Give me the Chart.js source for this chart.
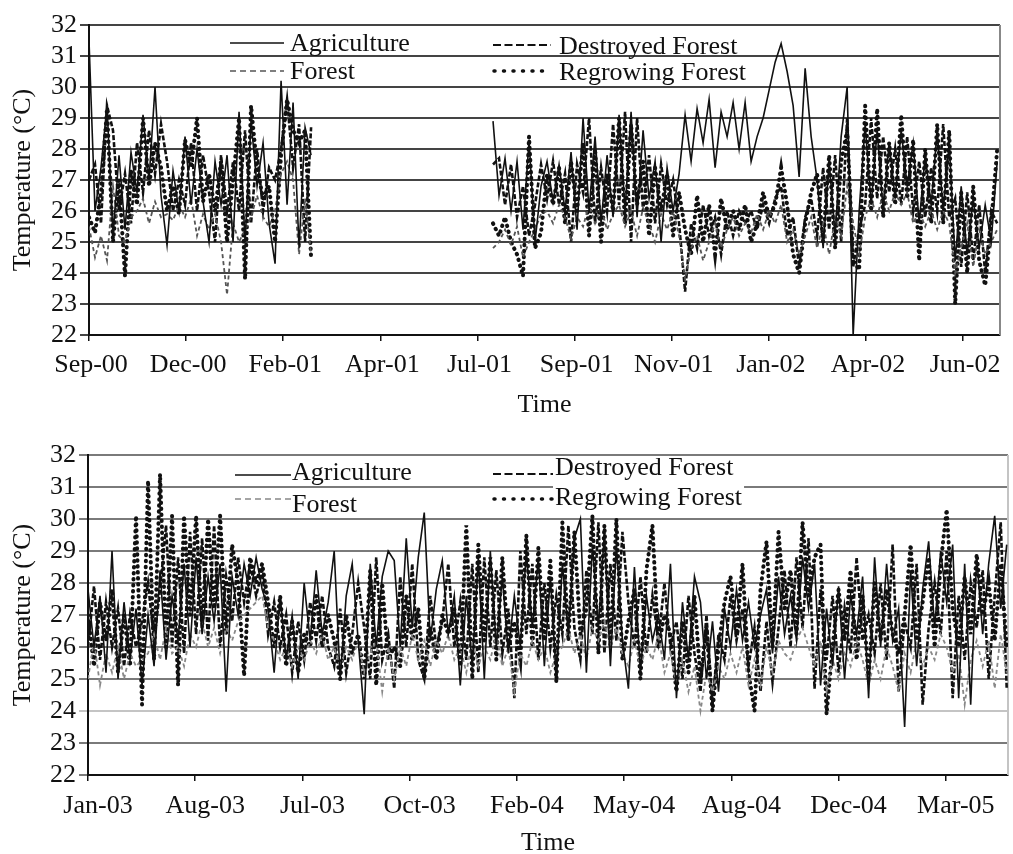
<!DOCTYPE html>
<html>
<head>
<meta charset="utf-8">
<script src="https://cdn.jsdelivr.net/npm/chart.js@4.4.1/dist/chart.umd.min.js"></script>
<style>
  html, body { margin: 0; padding: 0; background: #fff; }
  canvas { display: block; }
</style>
</head>
<body>
<canvas id="chart-top" width="1013" height="420"></canvas>
<canvas id="chart-bottom" width="1013" height="434"></canvas>
<script>
// axis labels, one per tick step
const topLabels = ["Sep-00", "Dec-00", "Feb-01", "Apr-01", "Jul-01", "Sep-01", "Nov-01", "Jan-02", "Apr-02", "Jun-02"];
const bottomLabels = ["Jan-03", "Aug-03", "Jul-03", "Oct-03", "Feb-04", "May-04", "Aug-04", "Dec-04", "Mar-05"];
const seriesNames = ["Agriculture", "Forest", "Destroyed Forest", "Regrowing Forest"];

// top panel, first record (Sep-00 .. Feb-01)
const topStartA = 0;
const topStartB = 4.16;
const topStep = 0.0618;
const topAgricultureA = [31.5, 26.0, 27.4, 29.4, 25.2, 27.8, 25.4, 27.9, 26.6, 29.1, 27.0, 30.0, 26.5, 24.9, 27.3, 26.0, 28.4, 26.2, 28.0, 26.3, 25.0, 27.6, 26.2, 27.8, 25.0, 29.2, 25.0, 28.9, 26.8, 28.2, 25.6, 24.3, 30.2, 26.2, 29.5, 24.8, 28.7, 27.8];
const topForestA = [25.5, 24.5, 25.2, 24.4, 26.8, 25.2, 25.0, 25.8, 26.0, 26.4, 25.6, 26.3, 25.8, 25.9, 25.7, 26.2, 25.8, 26.4, 25.2, 25.9, 25.4, 25.9, 25.0, 23.3, 25.6, 25.0, 25.4, 25.8, 26.5, 25.8, 25.5, 26.0, 27.2, 27.6, 27.0, 24.6, 26.4, 24.6];
const topDestroyedA = [27.0, 27.5, 25.6, 29.4, 28.6, 26.0, 27.2, 25.6, 28.2, 26.6, 28.6, 27.2, 28.8, 27.6, 26.0, 27.0, 26.2, 28.2, 26.0, 27.8, 26.6, 25.0, 27.8, 26.0, 27.6, 26.0, 28.6, 25.6, 28.0, 26.0, 27.4, 27.0, 28.0, 29.6, 27.4, 28.8, 25.0, 28.7];
const topRegrowingA = [25.8, 25.3, 26.6, 29.3, 25.0, 27.0, 23.9, 27.3, 26.2, 29.0, 26.8, 28.2, 27.4, 26.0, 26.8, 25.9, 28.3, 27.4, 29.0, 26.3, 27.2, 26.0, 27.6, 25.0, 27.0, 29.0, 23.8, 29.4, 27.4, 26.4, 26.8, 25.0, 27.8, 29.6, 28.6, 28.2, 28.6, 24.5];

// top panel, second record (Jul-01 .. Jun-02)
const topAgricultureB = [28.9, 26.5, 27.7, 26.0, 27.6, 25.4, 28.3, 25.0, 26.8, 27.6, 26.3, 27.5, 26.0, 27.9, 25.4, 29.0, 26.0, 28.4, 25.6, 27.8, 25.8, 29.1, 26.0, 29.2, 25.8, 28.6, 26.4, 27.6, 25.0, 27.4, 26.0, 27.2, 29.1, 27.6, 29.3, 28.2, 29.6, 27.4, 29.2, 28.4, 29.5, 28.0, 29.5, 27.6, 28.4, 29.0, 29.9, 30.8, 31.4, 30.5, 29.4, 27.1, 30.6, 28.4, 27.0, 24.8, 27.6, 25.2, 28.4, 30.0, 22.0, 26.0, 28.8, 26.2, 28.6, 26.0, 28.2, 26.4, 28.6, 26.8, 28.2, 25.6, 27.8, 26.2, 28.6, 26.0, 28.2, 24.4, 26.8, 24.6, 26.4, 24.8, 26.2, 25.0, 27.6];
const topForestB = [24.8, 25.0, 25.4, 24.9, 25.5, 24.5, 25.0, 25.4, 25.9, 26.0, 25.6, 26.2, 25.8, 25.1, 25.8, 25.5, 26.2, 25.6, 26.1, 25.4, 25.9, 26.2, 25.5, 26.0, 25.2, 26.1, 25.6, 25.0, 25.9, 25.4, 26.0, 25.2, 23.8, 24.8, 25.2, 24.4, 25.0, 25.6, 24.8, 25.4, 25.8, 25.2, 25.6, 25.3, 25.9, 25.4, 26.0, 25.6, 26.2, 25.0, 25.4, 24.6, 25.2, 25.8, 24.8, 25.6, 24.6, 25.8, 25.2, 26.8, 25.6, 24.6, 25.8, 26.4, 25.8, 26.6, 26.0, 26.6, 26.2, 26.6, 25.6, 26.0, 25.5, 26.0, 25.4, 26.0, 25.6, 24.0, 24.8, 25.6, 24.2, 25.4, 24.6, 25.0, 25.4];
const topDestroyedB = [27.5, 27.7, 26.2, 27.5, 25.8, 26.8, 25.2, 26.2, 27.5, 26.4, 27.6, 26.2, 27.2, 25.0, 27.5, 26.6, 29.0, 25.6, 27.4, 26.0, 28.8, 26.2, 29.2, 25.0, 29.0, 26.0, 27.8, 25.6, 27.5, 26.2, 27.0, 25.6, 23.4, 25.6, 24.8, 26.2, 25.2, 25.8, 24.6, 26.0, 25.2, 26.0, 25.6, 26.0, 25.4, 26.2, 25.6, 26.4, 26.8, 25.2, 25.8, 24.2, 25.8, 26.4, 25.2, 27.4, 25.4, 27.8, 25.0, 29.0, 24.2, 25.4, 26.2, 29.0, 26.4, 28.4, 26.6, 28.0, 26.2, 28.4, 26.0, 27.6, 25.8, 27.4, 26.0, 28.8, 25.8, 26.4, 24.2, 26.6, 24.4, 26.2, 24.0, 26.0, 25.6];
const topRegrowingB = [25.6, 25.2, 25.8, 25.0, 24.6, 23.9, 28.4, 24.8, 25.3, 27.2, 26.2, 27.4, 25.6, 27.6, 26.0, 28.2, 25.2, 28.0, 25.0, 27.2, 26.0, 29.0, 25.6, 28.8, 26.2, 27.6, 25.2, 27.4, 26.0, 27.2, 25.2, 26.6, 25.4, 24.6, 26.5, 25.0, 26.2, 24.6, 26.4, 25.4, 26.0, 25.4, 26.2, 25.0, 25.6, 26.6, 25.8, 26.2, 27.4, 26.2, 24.6, 24.0, 25.6, 26.6, 27.2, 25.0, 27.8, 24.8, 27.6, 28.6, 24.4, 24.1, 29.4, 26.0, 29.3, 25.8, 28.2, 26.2, 29.1, 26.4, 28.3, 24.4, 28.0, 25.6, 28.8, 25.6, 28.6, 23.0, 26.6, 24.0, 26.8, 24.4, 23.6, 25.6, 28.0];

// bottom panel (Jan-03 .. Mar-05)
const bottomStart = 0;
const bottomStep = 0.056;
const bottomAgriculture = [
  27.8, 26.0, 27.6, 25.2, 29.0, 25.0, 27.4, 25.6, 27.2, 24.8,
  27.0, 25.4, 28.4, 25.6, 27.6, 26.2, 28.6, 26.0, 28.8, 26.4,
  28.2, 26.8, 28.6, 24.6, 28.2, 27.0, 28.6, 27.6, 28.8, 27.8,
  27.2, 25.2, 27.6, 25.6, 27.0, 25.0, 28.0, 26.2, 28.4, 26.4,
  27.4, 29.0, 25.0, 27.6, 28.6, 26.2, 23.9, 28.6, 26.0, 28.2, 29.0,
  28.7, 26.0, 29.4, 26.6, 28.8, 30.2, 26.2, 27.8, 28.7, 26.4,
  27.6, 24.8, 27.6, 25.4, 28.8, 25.0, 29.0, 26.0, 28.2, 25.8,
  27.6, 26.0, 29.0, 26.6, 28.8, 25.4, 28.2, 25.0, 28.6, 26.4,
  29.4, 30.0, 25.2, 29.2, 26.6, 29.6, 25.4, 29.2, 26.2, 24.7,
  28.5, 25.2, 27.6, 26.2, 27.0, 25.6, 28.6, 24.4, 27.4, 25.6, 28.2,
  27.4, 25.0, 26.8, 24.6, 27.2, 26.0, 27.8, 26.2, 27.4, 26.0,
  27.0, 27.8, 25.8, 28.2, 26.4, 27.6, 26.2, 28.8, 27.2, 28.6,
  24.8, 27.2, 25.4, 27.9, 25.0, 27.6, 26.4, 28.2, 24.4, 28.8,
  26.0, 28.6, 26.2, 27.2, 23.5, 28.4, 25.4, 27.8, 29.3, 26.6,
  29.0, 27.4, 29.2, 24.4, 28.6, 24.2, 28.8, 26.4, 28.6, 30.1,
  27.2, 29.2
];
const bottomForest = [
  25.0, 26.2, 24.8, 25.8, 25.2, 26.0, 25.0, 25.8, 25.4, 25.6,
  25.8, 26.4, 25.6, 26.6, 25.8, 26.0, 25.4, 26.4, 26.0, 26.8,
  26.0, 26.6, 25.8, 26.6, 26.2, 26.8, 27.0, 27.2, 27.4, 27.6,
  26.6, 26.2, 25.6, 26.0, 25.4, 26.0, 25.6, 26.2, 25.8, 26.4,
  25.6, 26.0, 25.4, 26.0, 25.6, 26.2, 25.2, 25.8, 26.2, 24.6, 26.0,
  25.0, 26.0, 25.4, 26.4, 25.6, 26.2, 25.4, 26.2, 25.8, 26.4,
  25.6, 26.0, 25.2, 26.2, 25.4, 26.0, 25.6, 26.4, 25.4, 26.0,
  24.6, 25.8, 25.4, 26.2, 25.6, 26.0, 25.2, 25.8, 26.0, 26.6,
  25.8, 26.4, 25.6, 26.6, 26.2, 26.8, 26.0, 26.6, 25.8, 25.4,
  26.2, 25.4, 26.0, 25.6, 26.4, 25.2, 25.8, 24.8, 25.6, 24.6, 25.4,
  24.0, 25.2, 24.6, 25.4, 25.0, 25.8, 25.2, 26.0, 24.8, 25.6,
  24.8, 26.0, 25.2, 26.2, 25.8, 25.6, 26.2, 26.6, 26.0, 25.4,
  26.2, 24.6, 25.6, 25.0, 25.8, 25.4, 26.2, 25.6, 24.8, 25.6,
  25.0, 26.0, 25.4, 24.6, 25.8, 25.2, 26.2, 25.4, 26.0, 25.6,
  26.4, 26.0, 25.2, 25.8, 24.2, 25.6, 26.2, 25.4, 26.2, 24.7,
  26.4, 25.2
];
const bottomDestroyed = [
  26.0, 27.9, 25.6, 27.4, 26.0, 27.2, 25.4, 27.0, 26.0, 26.8,
  28.0, 26.2, 27.8, 29.8, 26.0, 28.8, 25.8, 29.6, 26.4, 29.4,
  26.2, 29.8, 26.0, 28.2, 26.8, 28.8, 27.4, 28.6, 27.6, 28.4,
  26.4, 27.4, 26.0, 27.0, 25.2, 26.8, 25.6, 27.4, 26.2, 27.6,
  26.0, 25.4, 27.2, 25.2, 26.4, 28.0, 26.6, 25.0, 28.8, 25.6, 26.4,
  24.7, 28.2, 26.0, 28.6, 25.6, 25.0, 27.6, 26.0, 26.8, 28.6,
  26.0, 27.4, 25.6, 28.6, 25.2, 28.8, 26.0, 28.4, 25.8, 27.2,
  24.4, 29.0, 26.4, 28.6, 25.6, 28.0, 26.0, 27.6, 26.4, 29.8,
  26.6, 25.6, 28.4, 26.4, 29.9, 25.8, 28.6, 26.2, 29.6, 27.4,
  26.0, 28.2, 25.8, 27.6, 26.2, 28.0, 26.0, 26.8, 25.0, 27.6, 25.8,
  24.6, 27.0, 24.2, 26.4, 25.6, 27.6, 26.2, 27.2, 25.4, 26.6,
  24.6, 26.8, 24.9, 26.6, 28.4, 26.0, 28.8, 26.6, 29.4, 24.7,
  27.8, 25.6, 27.6, 25.2, 27.2, 25.8, 28.8, 26.2, 27.0, 25.8,
  28.0, 25.6, 29.2, 24.6, 26.8, 26.0, 28.6, 24.2, 26.6, 28.0,
  26.4, 29.0, 24.4, 27.6, 25.6, 28.0, 26.6, 28.4, 25.0, 27.6,
  29.9, 24.7
];
const bottomRegrowing = [
  27.0, 25.4, 27.4, 26.2, 27.8, 25.2, 27.0, 25.4, 30.1, 24.2,
  31.2, 25.6, 31.4, 26.0, 30.1, 24.8, 30.1, 27.0, 30.1, 26.6,
  30.0, 27.2, 30.1, 26.4, 29.2, 28.0, 25.1, 28.8, 28.0, 28.6,
  27.4, 26.0, 27.6, 25.4, 26.8, 25.2, 26.4, 26.0, 27.6, 26.0,
  27.0, 26.2, 25.0, 27.0, 25.8, 26.4, 25.0, 28.4, 24.8, 28.0, 25.6,
  26.0, 25.4, 27.6, 26.2, 27.2, 25.0, 26.6, 25.6, 27.0, 26.4,
  27.2, 25.4, 29.8, 25.0, 29.2, 26.2, 28.8, 25.6, 28.8, 26.0,
  26.8, 25.6, 29.5, 26.0, 29.1, 26.2, 28.7, 24.9, 29.9, 26.2,
  29.6, 26.4, 27.2, 30.1, 25.8, 29.8, 26.0, 30.0, 25.6, 26.8,
  27.8, 25.0, 28.4, 29.8, 26.0, 27.0, 26.4, 24.6, 26.8, 25.2, 27.6,
  25.0, 26.6, 24.0, 26.0, 27.4, 28.2, 26.4, 28.6, 25.2, 24.0,
  27.8, 29.3, 26.0, 29.6, 27.2, 28.4, 26.4, 29.9, 27.6, 28.8,
  29.2, 23.9, 26.0, 27.8, 26.2, 28.4, 25.6, 27.6, 25.0, 28.0,
  26.2, 27.8, 26.4, 25.8, 27.0, 29.2, 26.2, 27.4, 28.8, 26.0,
  28.6, 30.3, 27.2, 26.0, 28.2, 26.4, 28.9, 27.0, 28.0, 26.2,
  28.6, 26.0
];

function toPoints(values, start, step) {
  return values.map((y, i) => ({ x: start + i * step, y: y }));
}

// two records with a gap between them
function twoRecords(a, b) {
  return [...toPoints(a, topStartA, topStep), { x: 3, y: null }, ...toPoints(b, topStartB, topStep)];
}

function seriesStyles(forestColor) {
  return [
    { borderColor: "#111", borderWidth: 1.6 },
    { borderColor: forestColor, borderWidth: 1.8, borderDash: [4, 3] },
    { borderColor: "#111", borderWidth: 2.6, borderDash: [5, 2] },
    { borderColor: "#111", borderWidth: 4, borderDash: [0.5, 5.5], borderCapStyle: "round" },
  ];
}

// legend drawn inside the plot in two columns, like the original
const fieldLegend = {
  id: "fieldLegend",
  afterDatasetsDraw(chart, args, opts) {
    const ctx = chart.ctx;
    ctx.save();
    ctx.font = "26px 'Liberation Serif', 'Times New Roman', serif";
    ctx.textBaseline = "middle";
    for (const it of opts.items) {
      const ds = chart.data.datasets[it.ds];
      if (it.bg) {
        const w = ctx.measureText(ds.label).width;
        ctx.fillStyle = "#fff";
        ctx.fillRect(it.tx - 2, it.ty - 12, w + 4, 25);
      }
      ctx.strokeStyle = ds.borderColor;
      ctx.lineWidth = it.width || ds.borderWidth;
      ctx.lineCap = ds.borderCapStyle || "butt";
      ctx.setLineDash(it.dash || []);
      ctx.beginPath();
      ctx.moveTo(it.x0, it.y);
      ctx.lineTo(it.x1, it.y);
      ctx.stroke();
      ctx.setLineDash([]);
      ctx.fillStyle = "#111";
      ctx.fillText(ds.label, it.tx, it.ty);
    }
    ctx.restore();
  },
};

const frameRight = {
  id: "frameRight",
  beforeDatasetsDraw(chart, args, opts) {
    const { ctx, chartArea: a } = chart;
    ctx.save();
    ctx.strokeStyle = opts.color;
    ctx.lineWidth = 2;
    ctx.beginPath();
    ctx.moveTo(a.right, a.top);
    ctx.lineTo(a.right, a.bottom);
    ctx.stroke();
    ctx.restore();
  },
};

Chart.register(fieldLegend, frameRight);
Chart.defaults.font.family = "'Liberation Serif', 'Times New Roman', serif";
Chart.defaults.font.size = 26;
Chart.defaults.color = "#111";

function panelOptions(cfg) {
  return {
    responsive: false,
    animation: false,
    devicePixelRatio: 1,
    layout: { padding: { top: cfg.padTop, right: cfg.padRight, left: 0, bottom: 0 } },
    elements: { point: { radius: 0 }, line: { tension: 0 } },
    plugins: {
      legend: { display: false },
      tooltip: { enabled: false },
      fieldLegend: { items: cfg.legend },
      frameRight: { color: cfg.frameColor },
    },
    scales: {
      x: {
        type: "linear",
        min: 0,
        max: cfg.xMax,
        afterFit: (s) => { s.height = cfg.xHeight; },
        border: { display: true, color: "#111", width: 2 },
        grid: { drawOnChartArea: false, drawTicks: true, tickLength: 6, color: "#111", lineWidth: 1.5 },
        ticks: {
          stepSize: 1,
          includeBounds: false,
          autoSkip: false,
          maxRotation: 0,
          padding: cfg.xTickPad,
          labelOffset: cfg.labelOffset,
          callback: (v) => cfg.labels[v] ?? null,
        },
        title: { display: true, text: "Time", font: { size: 26, lineHeight: cfg.titleLH }, padding: 0 },
      },
      y: {
        min: 22,
        max: 32,
        afterFit: (s) => { s.width = cfg.yWidth; },
        border: { display: true, color: "#111", width: 2 },
        grid: { color: cfg.gridColor, lineWidth: 2, tickLength: 9 },
        ticks: { stepSize: 1, padding: 3, autoSkip: false },
        title: { display: true, text: "Temperature (°C)", font: { size: 26 }, padding: { top: 8, bottom: 0 } },
      },
    },
  };
}

function buildDatasets(dataList, forestColor) {
  const styles = seriesStyles(forestColor);
  return dataList.map((data, i) => ({
    label: seriesNames[i],
    data: data,
    fill: false,
    spanGaps: false,
    ...styles[i],
  }));
}

new Chart(document.getElementById("chart-top"), {
  type: "line",
  data: {
    datasets: buildDatasets([
      twoRecords(topAgricultureA, topAgricultureB),
      twoRecords(topForestA, topForestB),
      twoRecords(topDestroyedA, topDestroyedB),
      twoRecords(topRegrowingA, topRegrowingB),
    ], "#555"),
  },
  options: panelOptions({
    labels: topLabels,
    xMax: 9.38,
    padTop: 25,
    padRight: 13,
    xHeight: 85,
    yWidth: 89,
    xTickPad: 9,
    labelOffset: 2,
    titleLH: 1.15,
    gridColor: "#444",
    frameColor: "#888",
    legend: [
      { ds: 0, x0: 230, x1: 284, y: 43, tx: 290, ty: 44, dash: [], width: 1.3 },
      { ds: 1, x0: 230, x1: 284, y: 71, tx: 290, ty: 72, dash: [6, 4], width: 1.5 },
      { ds: 2, x0: 493, x1: 551, y: 45, tx: 559, ty: 47, dash: [8, 3.5], width: 2 },
      { ds: 3, x0: 494, x1: 551, y: 71, tx: 559, ty: 73, dash: [1, 8.5], width: 3.5 },
    ],
  }),
});

new Chart(document.getElementById("chart-bottom"), {
  type: "line",
  data: {
    datasets: buildDatasets([
      toPoints(bottomAgriculture, bottomStart, bottomStep),
      toPoints(bottomForest, bottomStart, bottomStep),
      toPoints(bottomDestroyed, bottomStart, bottomStep),
      toPoints(bottomRegrowing, bottomStart, bottomStep),
    ], "#888"),
  },
  options: panelOptions({
    labels: bottomLabels,
    xMax: 8.58,
    padTop: 35,
    padRight: 5,
    xHeight: 79,
    yWidth: 88,
    xTickPad: 10,
    labelOffset: 10,
    titleLH: 0.8,
    gridColor: (c) => (c.tick && c.tick.value === 24 ? "#c4c4c4" : "#7a7a7a"),
    frameColor: "#c4c4c4",
    legend: [
      { ds: 0, x0: 235, x1: 291, y: 55, tx: 292, ty: 53, dash: [], width: 1.3 },
      { ds: 1, x0: 235, x1: 291, y: 79, tx: 292, ty: 85, dash: [6, 4], width: 1.5 },
      { ds: 2, x0: 493, x1: 553, y: 54, tx: 555, ty: 48, dash: [8, 3.5], width: 2 },
      { ds: 3, x0: 494, x1: 553, y: 79, tx: 555, ty: 78, dash: [1, 8.5], width: 3.5, bg: true },
    ],
  }),
});
</script>
</body>
</html>
